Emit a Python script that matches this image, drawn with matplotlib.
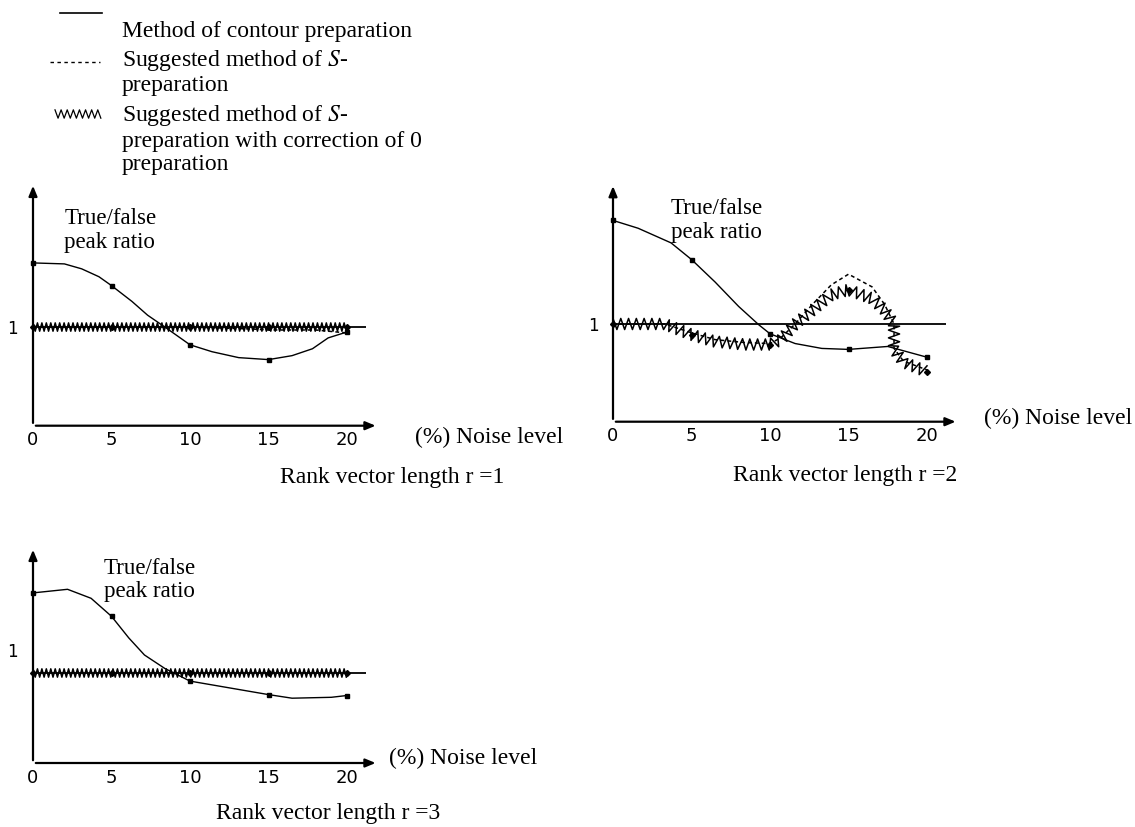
#!/usr/bin/env python3

import numpy as np
import matplotlib
matplotlib.use("Agg")
import matplotlib.pyplot as plt
from matplotlib.patheffects import AbstractPathEffect
from matplotlib.path import Path
from matplotlib.transforms import Affine2D
from matplotlib.lines import Line2D

plt.rcParams["font.family"] = ["Liberation Serif", "DejaVu Serif"]
plt.rcParams["mathtext.fontset"] = "stix"

# ---- data (noise level %, true/false peak ratio) ----
ticks_x = [0, 5, 10, 15, 20]
tick_labels = ["0", "5", "10", "15", "20"]

# r = 1
r1_contour_x = [0, 2.0, 3.1, 4.2, 5, 6.3, 7.3, 8.4, 10, 11.4, 13.1, 15, 16.5, 17.8, 18.8, 20]
r1_contour_y = [1.65, 1.64, 1.59, 1.51, 1.42, 1.26, 1.12, 1.0, 0.82, 0.75, 0.69, 0.67, 0.71, 0.78, 0.89, 0.95]
r1_s_x = [0, 5, 10, 14, 15, 18, 20]
r1_s_y = [1.0, 1.0, 1.0, 0.98, 0.97, 0.97, 0.94]
r1_corr_x = [0, 5, 10, 15, 20]
r1_corr_y = [1.0, 1.0, 1.0, 1.0, 1.0]

# r = 2
r2_contour_x = [0, 1.6, 3.7, 5, 6.5, 8, 9.3, 10, 11.6, 13.3, 15, 17.5, 20]
r2_contour_y = [2.06, 1.98, 1.83, 1.66, 1.43, 1.18, 0.99, 0.90, 0.80, 0.75, 0.74, 0.77, 0.66]
r2_s_x = [0, 3.3, 5, 6.5, 8.4, 10, 10.7, 11.6, 12.7, 13.9, 15, 16.5, 17.3, 17.9, 17.9, 18.5, 20]
r2_s_y = [1.0, 1.0, 0.91, 0.84, 0.81, 0.80, 0.86, 1.0, 1.2, 1.4, 1.51, 1.38, 1.2, 1.0, 0.75, 0.62, 0.53]
r2_corr_x = [0, 3.3, 5, 6.5, 8.4, 10, 10.7, 11.6, 12.7, 13.9, 15, 16.5, 17.3, 17.9, 17.9, 18.5, 20]
r2_corr_y = [1.0, 1.0, 0.89, 0.82, 0.79, 0.79, 0.84, 1.0, 1.14, 1.30, 1.35, 1.26, 1.14, 1.0, 0.74, 0.61, 0.51]

# r = 3
r3_contour_x = [0, 2.2, 3.7, 5, 6.1, 7.1, 8.4, 10, 15, 16.5, 19, 20]
r3_contour_y = [1.89, 1.93, 1.83, 1.63, 1.39, 1.20, 1.05, 0.91, 0.76, 0.72, 0.73, 0.75]
r3_corr_x = [0, 5, 10, 15, 20]
r3_corr_y = [1.0, 1.0, 1.0, 1.0, 1.0]


class Zigzag(AbstractPathEffect):
    """draw the path as a saw-tooth line (the 'WWWW' style of the figure)"""
    def __init__(self, step=1.6, amp=3.0):
        super().__init__()
        self._step = step
        self._amp = amp

    def draw_path(self, renderer, gc, tpath, affine, rgbFace=None):
        v = affine.transform(tpath.vertices)
        step = renderer.points_to_pixels(self._step)
        amp = renderer.points_to_pixels(self._amp)
        seg = np.diff(v, axis=0)
        seglen = np.hypot(seg[:, 0], seg[:, 1])
        cum = np.concatenate([[0], np.cumsum(seglen)])
        s = np.arange(0, cum[-1], step)
        idx = np.clip(np.searchsorted(cum, s, side="right") - 1, 0, len(seg) - 1)
        safe = np.where(seglen[idx] > 0, seglen[idx], 1)
        t = (s - cum[idx]) / safe
        pts = v[idx] + seg[idx] * t[:, None]
        d = seg[idx] / safe[:, None]
        nrm = np.column_stack([-d[:, 1], d[:, 0]])
        sign = np.where(np.arange(len(s)) % 2 == 0, 1, -1)
        pts = pts + nrm * amp * sign[:, None]
        renderer.draw_path(gc, Path(pts), Affine2D(), rgbFace)


W, H = 1135, 827
fig = plt.figure(figsize=(W / 100, H / 100), dpi=100)
XMAX = 22.0


def add_panel(rect, ytop):
    ax = fig.add_axes(rect)
    ax.set_xlim(0, XMAX)
    ax.set_ylim(0, ytop)
    for sp in ax.spines.values():
        sp.set_visible(False)
    style = "-|>,head_length=0.6,head_width=0.25"
    ax.annotate("", xy=(XMAX, 0), xytext=(0, 0),
                arrowprops=dict(arrowstyle=style, color="black", lw=1.6), annotation_clip=False)
    ax.annotate("", xy=(0, ytop), xytext=(0, 0),
                arrowprops=dict(arrowstyle=style, color="black", lw=1.6), annotation_clip=False)
    ax.set_xticks(ticks_x, tick_labels, family="DejaVu Sans", fontsize=13)
    ax.tick_params(axis="x", length=0, pad=4)
    ax.set_yticks([])
    ax.hlines(1, 0, 21.2, color="black", lw=1.3)
    return ax


def contour(ax, x, y):
    x = np.asarray(x)
    ax.plot(x, y, "-", color="black", lw=1.0, clip_on=False,
            marker="s", markersize=3.5, markevery=list(np.where(np.isin(x, ticks_x))[0]))


def corrected(ax, x, y, step, amp):
    ax.plot(x, y, "-", color="black", lw=1.1, clip_on=False,
            path_effects=[Zigzag(step=step, amp=amp)])
    x = np.asarray(x)
    m = np.isin(x, ticks_x)
    ax.plot(x[m], np.asarray(y)[m], "D", color="black", markersize=3, clip_on=False)


def suggested(ax, x, y):
    ax.plot(x, y, color="black", lw=1.1, dashes=(2.5, 2.0), clip_on=False)


LBL = dict(fontsize=17, va="center")
PR = dict(fontsize=16.5, va="center", linespacing=1.15)

# panel r = 1
ax1 = add_panel([33 / W, 1 - 425.7 / H, XMAX * 15.7 / W, 242.7 / H], 2.46)
ax1.set_yticks([1], ["1"], family="DejaVu Sans", fontsize=12)
ax1.tick_params(axis="y", length=0, pad=11)
suggested(ax1, r1_s_x, r1_s_y)
corrected(ax1, r1_corr_x, r1_corr_y, 1.6, 3.0)
contour(ax1, r1_contour_x, r1_contour_y)
ax1.text(2.0, 1.98, "True/false\npeak ratio", **PR)
ax1.text(24.3, -0.12, "(%) Noise level", **LBL)
ax1.text(22.9, -0.52, "Rank vector length r =1", ha="center", **LBL)

# panel r = 2
ax2 = add_panel([613 / W, 1 - 421.7 / H, XMAX * 15.7 / W, 238.4 / H], 2.44)
ax2.set_yticks([1], ["1"], family="DejaVu Sans", fontsize=12)
ax2.tick_params(axis="y", length=0, pad=10)
suggested(ax2, r2_s_x, r2_s_y)
corrected(ax2, r2_corr_x, r2_corr_y, 2.8, 4.0)
contour(ax2, r2_contour_x, r2_contour_y)
ax2.text(3.7, 2.06, "True/false\npeak ratio", **PR)
ax2.text(23.6, 0.03, "(%) Noise level", **LBL)
ax2.text(14.8, -0.55, "Rank vector length r =2", ha="center", **LBL)

# panel r = 3
ax3 = add_panel([33 / W, 1 - 763 / H, XMAX * 15.7 / W, 216 / H], 2.4)
corrected(ax3, r3_corr_x, r3_corr_y, 1.6, 3.0)
contour(ax3, r3_contour_x, r3_contour_y)
ax3.text(-1.3, 1.23, "1", family="DejaVu Sans", fontsize=12, ha="center", va="center")
ax3.text(4.5, 2.03, "True/false\npeak ratio", **PR)
ax3.text(22.7, 0.05, "(%) Noise level", **LBL)
ax3.text(18.8, -0.56, "Rank vector length r =3", ha="center", **LBL)

# legend at the top left
def fx(px):
    return px / W

def fy(py):
    return 1 - py / H

fig.add_artist(Line2D([fx(60), fx(102)], [fy(12.5), fy(12.5)], color="black", lw=1.2))
fig.add_artist(Line2D([fx(50), fx(100)], [fy(62), fy(62)], color="black", lw=1.0, dashes=(2.5, 2.5)))
fig.add_artist(Line2D([fx(55), fx(103)], [fy(114), fy(114)], color="black", lw=0.9,
                      path_effects=[Zigzag(step=2.2, amp=3.0)]))
fig.text(fx(122), fy(32), "Method of contour preparation", **LBL)
fig.text(fx(122), fy(72), "Suggested method of $S$-\npreparation", linespacing=1.15, **LBL)
fig.text(fx(122), fy(139), "Suggested method of $S$-\npreparation with correction of 0\npreparation",
         linespacing=1.15, **LBL)

plt.savefig("out.png", dpi=100)
plt.close()
